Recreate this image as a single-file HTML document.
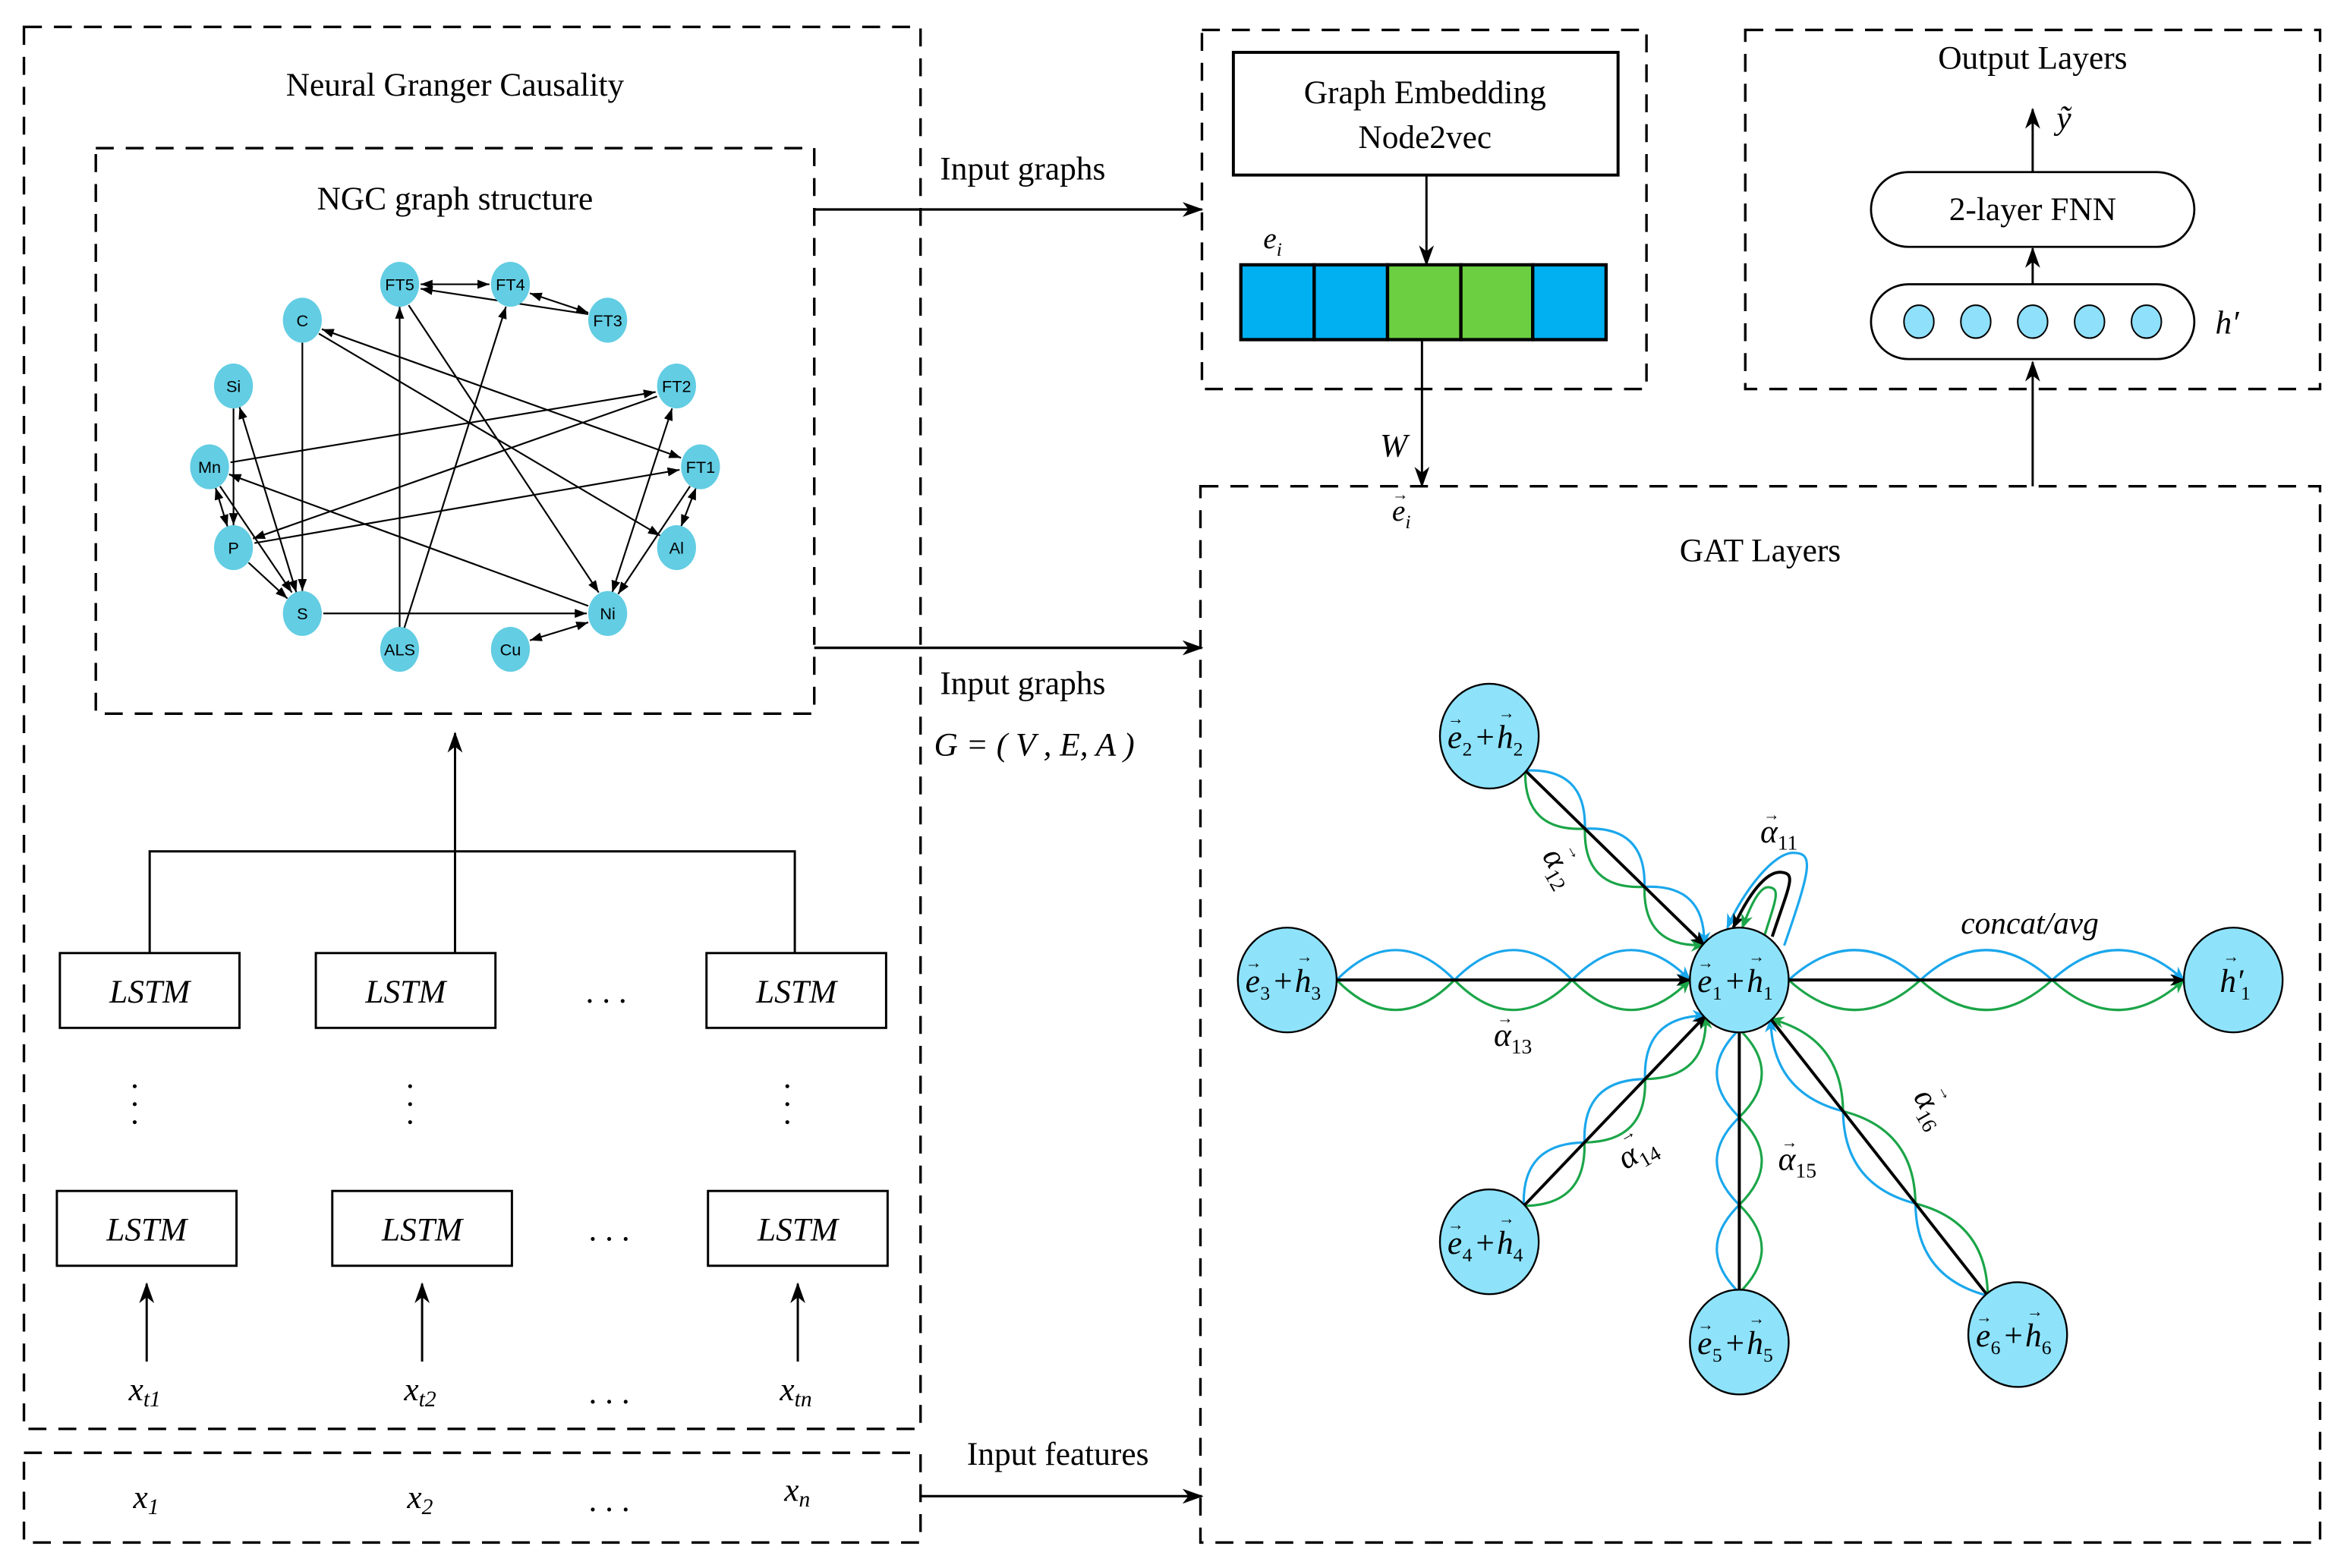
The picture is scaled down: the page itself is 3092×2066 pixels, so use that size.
<!DOCTYPE html>
<html><head><meta charset="utf-8"><style>
html,body{margin:0;padding:0;background:#fff;}
svg{display:block;}
text{font-family:"Liberation Serif",serif;fill:#000;}
.g text{font-family:"Liberation Sans",sans-serif;}
</style></head><body>
<svg width="3092" height="2066" viewBox="0 0 1568 1048" preserveAspectRatio="none" xmlns="http://www.w3.org/2000/svg">
<defs>
<marker id="big" markerUnits="userSpaceOnUse" markerWidth="14" markerHeight="10" refX="13" refY="5" orient="auto"><path d="M0,0 L14,5 L0,10 L4,5 Z" fill="#000"/></marker>
<marker id="sm" markerUnits="userSpaceOnUse" markerWidth="8" markerHeight="6" refX="8" refY="3" orient="auto"><path d="M0,0 L8,3 L0,6 Z" fill="#000"/></marker>
<marker id="smS" markerUnits="userSpaceOnUse" markerWidth="8" markerHeight="6" refX="0" refY="3" orient="auto"><path d="M8,0 L0,3 L8,6 Z" fill="#000"/></marker>
<marker id="ab" markerUnits="userSpaceOnUse" markerWidth="10" markerHeight="8" refX="9" refY="4" orient="auto"><path d="M0,0 L10,4 L0,8 L3,4 Z" fill="#1AA7EC"/></marker>
<marker id="ag" markerUnits="userSpaceOnUse" markerWidth="10" markerHeight="8" refX="9" refY="4" orient="auto"><path d="M0,0 L10,4 L0,8 L3,4 Z" fill="#1BA548"/></marker>
<marker id="ak" markerUnits="userSpaceOnUse" markerWidth="10" markerHeight="8" refX="9" refY="4" orient="auto"><path d="M0,0 L10,4 L0,8 L3,4 Z" fill="#000"/></marker>
</defs>

<g fill="none" stroke="#000" stroke-width="1.7" stroke-dasharray="12,8">
<rect x="16" y="18" width="599" height="937"/>
<rect x="16" y="971" width="599" height="60"/>
<rect x="64" y="99" width="480" height="378"/>
<rect x="803" y="20" width="297" height="240"/>
<rect x="1166" y="20" width="384" height="240"/>
<rect x="802" y="325" width="748" height="706"/>
</g>

<text x="304" y="64" font-size="22" text-anchor="middle">Neural Granger Causality</text>
<text x="304" y="140" font-size="22" text-anchor="middle">NGC graph structure</text>

<g stroke="#000" stroke-width="1.1" fill="none">
<line x1="281" y1="190" x2="327" y2="190" marker-start="url(#smS)" marker-end="url(#sm)"/>
<line x1="393" y1="210" x2="281" y2="193" marker-end="url(#sm)"/>
<line x1="354" y1="196" x2="393" y2="209" marker-start="url(#smS)" marker-end="url(#sm)"/>
<line x1="202" y1="229" x2="202" y2="395" marker-end="url(#sm)"/>
<line x1="215" y1="220" x2="455" y2="306" marker-start="url(#smS)" marker-end="url(#sm)"/>
<line x1="213" y1="223" x2="441" y2="358" marker-end="url(#sm)"/>
<line x1="156" y1="273" x2="156" y2="351" marker-end="url(#sm)"/>
<line x1="160" y1="272" x2="198" y2="396" marker-start="url(#smS)" marker-end="url(#sm)"/>
<line x1="154" y1="309" x2="438" y2="262" marker-end="url(#sm)"/>
<line x1="439" y1="265" x2="169" y2="360" marker-end="url(#sm)"/>
<line x1="144" y1="326" x2="152" y2="352" marker-start="url(#smS)" marker-end="url(#sm)"/>
<line x1="147" y1="325" x2="195" y2="396" marker-end="url(#sm)"/>
<line x1="166" y1="376" x2="192" y2="400" marker-end="url(#sm)"/>
<line x1="170" y1="363" x2="454" y2="314" marker-end="url(#sm)"/>
<line x1="393" y1="405" x2="153" y2="317" marker-end="url(#sm)"/>
<line x1="216" y1="410" x2="392" y2="410" marker-end="url(#sm)"/>
<line x1="267" y1="420" x2="267" y2="205" marker-end="url(#sm)"/>
<line x1="270" y1="420" x2="338" y2="205" marker-end="url(#sm)"/>
<line x1="273" y1="204" x2="400" y2="396" marker-end="url(#sm)"/>
<line x1="409" y1="396" x2="449" y2="273" marker-start="url(#smS)" marker-end="url(#sm)"/>
<line x1="461" y1="325" x2="413" y2="397" marker-end="url(#sm)"/>
<line x1="465" y1="326" x2="455" y2="352" marker-start="url(#smS)" marker-end="url(#sm)"/>
<line x1="354" y1="428" x2="393" y2="416" marker-start="url(#smS)" marker-end="url(#sm)"/>
</g>
<g class="g" fill="#62CDE3" font-size="11">
<ellipse cx="267" cy="190" rx="13" ry="15"/><ellipse cx="341" cy="190" rx="13" ry="15"/><ellipse cx="406" cy="214" rx="13" ry="15"/>
<ellipse cx="202" cy="214" rx="13" ry="15"/><ellipse cx="156" cy="258" rx="13" ry="15"/><ellipse cx="452" cy="258" rx="13" ry="15"/>
<ellipse cx="140" cy="312" rx="13" ry="15"/><ellipse cx="468" cy="312" rx="13" ry="15"/><ellipse cx="156" cy="366" rx="13" ry="15"/>
<ellipse cx="452" cy="366" rx="13" ry="15"/><ellipse cx="202" cy="410" rx="13" ry="15"/><ellipse cx="406" cy="410" rx="13" ry="15"/>
<ellipse cx="267" cy="434" rx="13" ry="15"/><ellipse cx="341" cy="434" rx="13" ry="15"/>
<g text-anchor="middle">
<text x="267" y="194">FT5</text><text x="341" y="194">FT4</text><text x="406" y="218">FT3</text>
<text x="202" y="218">C</text><text x="156" y="262">Si</text><text x="452" y="262">FT2</text>
<text x="140" y="316">Mn</text><text x="468" y="316">FT1</text><text x="156" y="370">P</text>
<text x="452" y="370">Al</text><text x="202" y="414">S</text><text x="406" y="414">Ni</text>
<text x="267" y="438">ALS</text><text x="341" y="438">Cu</text>
</g></g>

<g stroke="#000" stroke-width="1.5" fill="none">
<polyline points="100,637 100,569 531,569 531,637"/>
<line x1="304" y1="637" x2="304" y2="490" marker-end="url(#big)"/>
<rect x="40" y="637" width="120" height="50"/><rect x="211" y="637" width="120" height="50"/><rect x="472" y="637" width="120" height="50"/>
<rect x="38" y="796" width="120" height="50"/><rect x="222" y="796" width="120" height="50"/><rect x="473" y="796" width="120" height="50"/>
<line x1="98" y1="910" x2="98" y2="858" marker-end="url(#big)"/>
<line x1="282" y1="910" x2="282" y2="858" marker-end="url(#big)"/>
<line x1="533" y1="910" x2="533" y2="858" marker-end="url(#big)"/>
</g>
<g font-size="22" text-anchor="middle" font-style="italic">
<text x="100" y="670">LSTM</text><text x="271" y="670">LSTM</text><text x="532" y="670">LSTM</text>
<text x="98" y="829">LSTM</text><text x="282" y="829">LSTM</text><text x="533" y="829">LSTM</text>
</g>
<g font-size="22" text-anchor="middle">
<text x="405" y="670">. . .</text><text x="407" y="829">. . .</text><text x="407" y="938">. . .</text><text x="407" y="1010">. . .</text>
</g>
<g fill="#000">
<circle cx="90" cy="726" r="1.3"/><circle cx="90" cy="738" r="1.3"/><circle cx="90" cy="750" r="1.3"/>
<circle cx="274" cy="726" r="1.3"/><circle cx="274" cy="738" r="1.3"/><circle cx="274" cy="750" r="1.3"/>
<circle cx="526" cy="726" r="1.3"/><circle cx="526" cy="738" r="1.3"/><circle cx="526" cy="750" r="1.3"/>
</g>
<g font-size="22" font-style="italic">
<text x="86" y="936">x<tspan font-size="15" dy="4">t1</tspan></text>
<text x="270" y="936">x<tspan font-size="15" dy="4">t2</tspan></text>
<text x="521" y="936">x<tspan font-size="15" dy="4">tn</tspan></text>
<text x="89" y="1008">x<tspan font-size="15" dy="4">1</tspan></text>
<text x="272" y="1008">x<tspan font-size="15" dy="4">2</tspan></text>
<text x="524" y="1003">x<tspan font-size="15" dy="4">n</tspan></text>
</g>

<g stroke="#000" stroke-width="1.7" fill="none">
<line x1="544" y1="140" x2="803" y2="140" marker-end="url(#big)"/>
<line x1="544" y1="433" x2="803" y2="433" marker-end="url(#big)"/>
<line x1="615" y1="1000" x2="803" y2="1000" marker-end="url(#big)"/>
</g>
<g font-size="22">
<text x="628" y="120">Input graphs</text>
<text x="628" y="464">Input graphs</text>
<text x="646" y="979">Input features</text>
<text x="624" y="505" font-style="italic">G = ( V , E, A )</text>
</g>

<rect x="824" y="35" width="257" height="82" fill="none" stroke="#000" stroke-width="2"/>
<text x="952" y="69" font-size="22" text-anchor="middle">Graph Embedding</text>
<text x="952" y="99" font-size="22" text-anchor="middle">Node2vec</text>
<line x1="953" y1="117" x2="953" y2="177" stroke="#000" stroke-width="1.5" marker-end="url(#big)"/>
<text x="844" y="166" font-size="20" font-style="italic">e<tspan font-size="13" dy="5">i</tspan></text>
<g stroke="#000" stroke-width="2.2">
<rect x="829" y="177" width="49" height="50" fill="#00B0F0"/>
<rect x="878" y="177" width="49" height="50" fill="#00B0F0"/>
<rect x="927" y="177" width="49" height="50" fill="#6CCF41"/>
<rect x="976" y="177" width="48" height="50" fill="#6CCF41"/>
<rect x="1024" y="177" width="49" height="50" fill="#00B0F0"/>
</g>
<line x1="950" y1="227" x2="950" y2="325" stroke="#000" stroke-width="1.5" marker-end="url(#big)"/>
<text x="922" y="305" font-size="22" font-style="italic">W</text>
<text x="930" y="348" font-size="20" font-style="italic">e<tspan font-size="13" dy="5">i</tspan></text>
<text x="930" y="334" font-size="11">→</text>

<text x="1358" y="46" font-size="22" text-anchor="middle">Output Layers</text>
<line x1="1358" y1="325" x2="1358" y2="242" stroke="#000" stroke-width="1.5" marker-end="url(#big)"/>
<rect x="1250" y="190" width="216" height="50" rx="25" fill="none" stroke="#000" stroke-width="1.4"/>
<g fill="#8EE0FB" stroke="#000" stroke-width="1">
<ellipse cx="1282" cy="215" rx="10" ry="11"/><ellipse cx="1320" cy="215" rx="10" ry="11"/><ellipse cx="1358" cy="215" rx="10" ry="11"/><ellipse cx="1396" cy="215" rx="10" ry="11"/><ellipse cx="1434" cy="215" rx="10" ry="11"/>
</g>
<text x="1480" y="223" font-size="22" font-style="italic">h′</text>
<line x1="1358" y1="190" x2="1358" y2="166" stroke="#000" stroke-width="1.5" marker-end="url(#big)"/>
<rect x="1250" y="115" width="216" height="50" rx="25" fill="none" stroke="#000" stroke-width="1.4"/>
<text x="1358" y="147" font-size="22" text-anchor="middle">2-layer FNN</text>
<line x1="1358" y1="115" x2="1358" y2="73" stroke="#000" stroke-width="1.5" marker-end="url(#big)"/>
<text x="1374" y="86" font-size="22" font-style="italic">ỹ</text>

<text x="1176" y="375" font-size="22" text-anchor="middle">GAT Layers</text>
<g fill="none" stroke-width="1.6">
<g transform="translate(1019,515) rotate(44.3)">
<path d="M0,0 Q27.8,-30 55.7,0 Q83.5,-30 111.3,0 Q139.2,-30 167,0" stroke="#1AA7EC" marker-end="url(#ab)"/>
<path d="M0,0 Q27.8,30 55.7,0 Q83.5,30 111.3,0 Q139.2,30 167,0" stroke="#1BA548" marker-end="url(#ag)"/>
<line x1="0" y1="0" x2="167" y2="0" stroke="#000" stroke-width="2" marker-end="url(#ak)"/></g>
<g transform="translate(893,655)">
<path d="M0,0 Q39.3,-40 78.7,0 Q118,-40 157.3,0 Q196.7,-40 236,0" stroke="#1AA7EC" marker-end="url(#ab)"/>
<path d="M0,0 Q39.3,40 78.7,0 Q118,40 157.3,0 Q196.7,40 236,0" stroke="#1BA548" marker-end="url(#ag)"/>
<line x1="0" y1="0" x2="236" y2="0" stroke="#000" stroke-width="2" marker-end="url(#ak)"/></g>
<g transform="translate(1018,806) rotate(-46.3)">
<path d="M0,0 Q29.3,-30 58.7,0 Q88,-30 117.3,0 Q146.7,-30 176,0" stroke="#1AA7EC" marker-end="url(#ab)"/>
<path d="M0,0 Q29.3,30 58.7,0 Q88,30 117.3,0 Q146.7,30 176,0" stroke="#1BA548" marker-end="url(#ag)"/>
<line x1="0" y1="0" x2="176" y2="0" stroke="#000" stroke-width="2" marker-end="url(#ak)"/></g>
<g transform="translate(1162,864) rotate(-90)">
<path d="M0,0 Q29.3,-30 58.7,0 Q88,-30 117.3,0 Q146.7,-30 176,0" stroke="#1AA7EC"/>
<path d="M0,0 Q29.3,30 58.7,0 Q88,30 117.3,0 Q146.7,30 176,0" stroke="#1BA548"/>
<line x1="0" y1="0" x2="176" y2="0" stroke="#000" stroke-width="2"/></g>
<g transform="translate(1328,866) rotate(-128.1)">
<path d="M0,0 Q39.2,-30 78.3,0 Q117.5,-30 156.7,0 Q195.8,-30 235,0" stroke="#1AA7EC" marker-end="url(#ab)"/>
<path d="M0,0 Q39.2,30 78.3,0 Q117.5,30 156.7,0 Q195.8,30 235,0" stroke="#1BA548" marker-end="url(#ag)"/>
<line x1="0" y1="0" x2="235" y2="0" stroke="#000" stroke-width="2"/></g>
<g transform="translate(1195,655)">
<path d="M0,0 Q44,-40 88,0 Q132,-40 176,0 Q220,-40 264,0" stroke="#1AA7EC" marker-end="url(#ab)"/>
<path d="M0,0 Q44,40 88,0 Q132,40 176,0 Q220,40 264,0" stroke="#1BA548" marker-end="url(#ag)"/>
<line x1="0" y1="0" x2="264" y2="0" stroke="#000" stroke-width="2" marker-end="url(#ak)"/></g>
<path d="M1192,632 C1210,580 1212,570 1198,570 C1185,570 1165,595 1154,620" stroke="#1AA7EC" marker-end="url(#ab)"/>
<path d="M1184,626 C1196,590 1200,584 1190,583 C1180,582 1168,598 1158,620" stroke="#000" stroke-width="2" marker-end="url(#ak)"/>
<path d="M1178,628 C1186,602 1190,594 1182,593 C1176,592 1170,604 1164,620" stroke="#1BA548" marker-end="url(#ag)"/>
</g>
<g fill="#8EE3FB" stroke="#000" stroke-width="1.2">
<ellipse cx="1162" cy="655" rx="33" ry="35"/>
<ellipse cx="995" cy="492" rx="33" ry="35"/>
<ellipse cx="860" cy="655" rx="33" ry="35"/>
<ellipse cx="995" cy="830" rx="33" ry="35"/>
<ellipse cx="1162" cy="897" rx="33" ry="35"/>
<ellipse cx="1348" cy="892" rx="33" ry="35"/>
<ellipse cx="1492" cy="655" rx="33" ry="35"/>
</g>
<g font-size="22">
<text x="1134" y="663" font-style="italic">e</text><text x="1144" y="668" font-size="13">1</text><text x="1153" y="663">+</text><text x="1167" y="663" font-style="italic">h</text><text x="1178" y="668" font-size="13">1</text>
<text x="967" y="500" font-style="italic">e</text><text x="977" y="505" font-size="13">2</text><text x="986" y="500">+</text><text x="1000" y="500" font-style="italic">h</text><text x="1011" y="505" font-size="13">2</text>
<text x="832" y="663" font-style="italic">e</text><text x="842" y="668" font-size="13">3</text><text x="851" y="663">+</text><text x="865" y="663" font-style="italic">h</text><text x="876" y="668" font-size="13">3</text>
<text x="967" y="838" font-style="italic">e</text><text x="977" y="843" font-size="13">4</text><text x="986" y="838">+</text><text x="1000" y="838" font-style="italic">h</text><text x="1011" y="843" font-size="13">4</text>
<text x="1134" y="905" font-style="italic">e</text><text x="1144" y="910" font-size="13">5</text><text x="1153" y="905">+</text><text x="1167" y="905" font-style="italic">h</text><text x="1178" y="910" font-size="13">5</text>
<text x="1320" y="900" font-style="italic">e</text><text x="1330" y="905" font-size="13">6</text><text x="1339" y="900">+</text><text x="1353" y="900" font-style="italic">h</text><text x="1364" y="905" font-size="13">6</text>
<text x="1483" y="663" font-style="italic">h′</text><text x="1497" y="668" font-size="13">1</text>
<text x="1310" y="624" font-size="21" font-style="italic">concat/avg</text>
<g font-style="italic">
<text x="1176" y="563">α<tspan font-size="14" dy="5" font-style="normal">11</tspan></text>
<text x="998" y="699">α<tspan font-size="14" dy="5" font-style="normal">13</tspan></text>
<text x="1188" y="782">α<tspan font-size="14" dy="5" font-style="normal">15</tspan></text>
<text transform="translate(1030,572) rotate(60)">α<tspan font-size="14" dy="5" font-style="normal">12</tspan></text>
<text transform="translate(1086,782) rotate(-30)">α<tspan font-size="14" dy="5" font-style="normal">14</tspan></text>
<text transform="translate(1278,733) rotate(60)">α<tspan font-size="14" dy="5" font-style="normal">16</tspan></text>
</g>
</g>
<g font-size="11">
<text x="1134" y="647">→</text><text x="1168" y="643">→</text>
<text x="967" y="484">→</text><text x="1001" y="480">→</text>
<text x="832" y="647">→</text><text x="866" y="643">→</text>
<text x="967" y="822">→</text><text x="1001" y="818">→</text>
<text x="1134" y="889">→</text><text x="1168" y="885">→</text>
<text x="1320" y="884">→</text><text x="1354" y="880">→</text>
<text x="1485" y="643">→</text>
<text x="1178" y="548">→</text><text x="1000" y="684">→</text><text x="1190" y="767">→</text>
<text transform="translate(1046,566) rotate(60)">→</text>
<text transform="translate(1084,764) rotate(-30)">→</text>
<text transform="translate(1294,727) rotate(60)">→</text>
</g>
</svg>
</body></html>
